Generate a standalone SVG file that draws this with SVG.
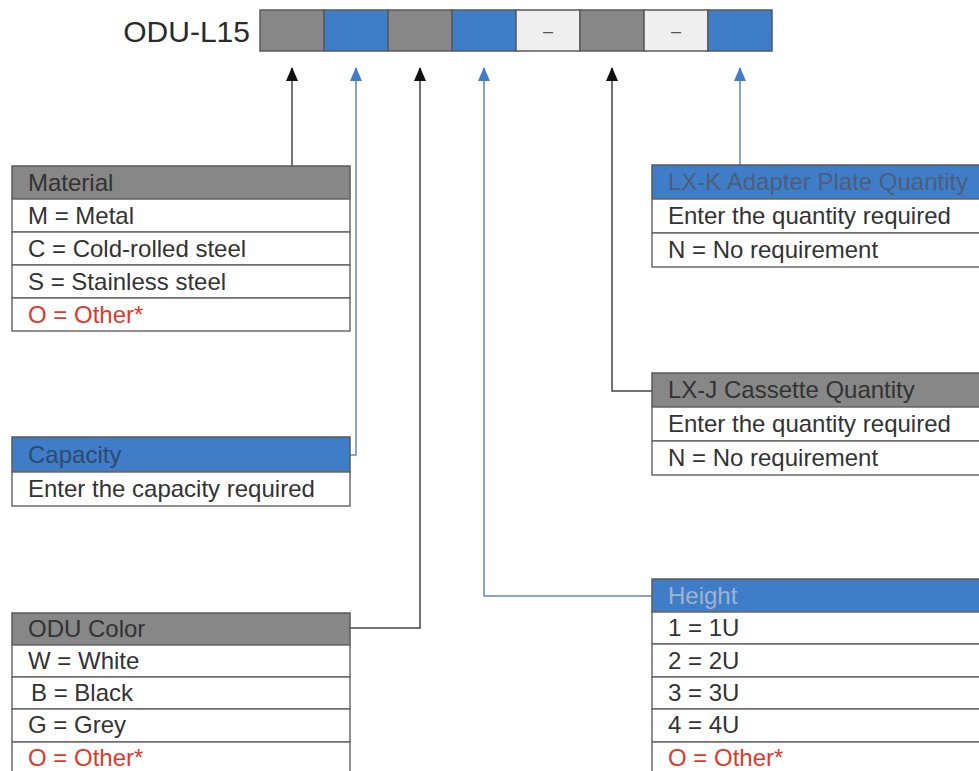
<svg xmlns="http://www.w3.org/2000/svg" width="979" height="771" viewBox="0 0 979 771">
<defs>
<marker id="ah-k" markerWidth="14" markerHeight="12" refX="13" refY="6" orient="auto" markerUnits="userSpaceOnUse" viewBox="0 0 14 12"><path d="M0,0 L14,6 L0,12 Z" fill="#111"/></marker>
<marker id="ah-b" markerWidth="14" markerHeight="12" refX="13" refY="6" orient="auto" markerUnits="userSpaceOnUse" viewBox="0 0 14 12"><path d="M0,0 L14,6 L0,12 Z" fill="#3f7dc9"/></marker>
</defs>
<style>
text{font-family:"Liberation Sans",Arial,sans-serif;font-size:24px;fill:#333}
.title{font-size:30px;fill:#2a2a2a}
.red{fill:#e0392b}
.gh{fill:#878787;stroke:#5a5a5a;stroke-width:1.5}
.bh{fill:#3f7dc9;stroke:#5a5a5a;stroke-width:1.5}
.lt{fill:#efefef;stroke:#5a5a5a;stroke-width:1.5}
.row{fill:#fff;stroke:#6a6a6a;stroke-width:1.5}
.ck{fill:none;stroke:#444;stroke-width:1.5}
.cb{fill:none;stroke:#5b87cc;stroke-width:1.5}
.dash{font-size:18px;fill:#555}
.hb1{fill:#2e4a6e}
.hb2{fill:#9fb3cf}
.hb3{fill:#4c5e7a}
</style>
<rect width="979" height="771" fill="#fff"/>
<g id="code">
<text class="title" x="250" y="42" text-anchor="end">ODU-L15</text>
<rect class="gh" x="260" y="10" width="64" height="41"/>
<rect class="bh" x="324" y="10" width="64" height="41"/>
<rect class="gh" x="388" y="10" width="64" height="41"/>
<rect class="bh" x="452" y="10" width="64" height="41"/>
<rect class="lt" x="516" y="10" width="64" height="41"/>
<rect class="gh" x="580" y="10" width="64" height="41"/>
<rect class="lt" x="644" y="10" width="64" height="41"/>
<rect class="bh" x="708" y="10" width="64" height="41"/>
<text class="dash" x="548" y="37" text-anchor="middle">–</text>
<text class="dash" x="676" y="37" text-anchor="middle">–</text>
</g>
<g id="connectors">
<path class="ck" d="M292,166 V68" marker-end="url(#ah-k)"/>
<path class="cb" d="M350,455 H356 V68" marker-end="url(#ah-b)"/>
<path class="ck" d="M350,628 H420 V68" marker-end="url(#ah-k)"/>
<path class="cb" d="M652,596 H484 V68" marker-end="url(#ah-b)"/>
<path class="ck" d="M652,391 H612 V68" marker-end="url(#ah-k)"/>
<path class="cb" d="M740,165 V68" marker-end="url(#ah-b)"/>
</g>
<g id="material">
<rect class="gh" x="12" y="166" width="338" height="33"/>
<rect class="row" x="12" y="199" width="338" height="33"/>
<rect class="row" x="12" y="232" width="338" height="33"/>
<rect class="row" x="12" y="265" width="338" height="33"/>
<rect class="row" x="12" y="298" width="338" height="33"/>
<text x="28" y="191">Material</text>
<text x="28" y="224">M = Metal</text>
<text x="28" y="257">C = Cold-rolled steel</text>
<text x="28" y="290">S = Stainless steel</text>
<text class="red" x="28" y="323">O = Other*</text>
</g>
<g id="capacity">
<rect class="bh" x="12" y="437" width="338" height="35"/>
<rect class="row" x="12" y="472" width="338" height="34"/>
<text class="hb1" x="28" y="463">Capacity</text>
<text x="28" y="497">Enter the capacity required</text>
</g>
<g id="odu-color">
<rect class="gh" x="12" y="613" width="338" height="32"/>
<rect class="row" x="12" y="645" width="338" height="32"/>
<rect class="row" x="12" y="677" width="338" height="32"/>
<rect class="row" x="12" y="709" width="338" height="33"/>
<rect class="row" x="12" y="742" width="338" height="40"/>
<text x="28" y="637">ODU Color</text>
<text x="28" y="669">W = White</text>
<text x="31" y="701">B = Black</text>
<text x="28" y="733">G = Grey</text>
<text class="red" x="28" y="766">O = Other*</text>
</g>
<g id="lx-k">
<rect class="bh" x="652" y="165" width="340" height="34"/>
<rect class="row" x="652" y="199" width="340" height="34"/>
<rect class="row" x="652" y="233" width="340" height="34"/>
<text class="hb3" x="668" y="190">LX-K Adapter Plate Quantity</text>
<text x="668" y="224">Enter the quantity required</text>
<text x="668" y="258">N = No requirement</text>
</g>
<g id="lx-j">
<rect class="gh" x="652" y="373" width="340" height="34"/>
<rect class="row" x="652" y="407" width="340" height="34"/>
<rect class="row" x="652" y="441" width="340" height="34"/>
<text x="668" y="398">LX-J Cassette Quantity</text>
<text x="668" y="432">Enter the quantity required</text>
<text x="668" y="466">N = No requirement</text>
</g>
<g id="height">
<rect class="bh" x="652" y="579" width="340" height="33"/>
<rect class="row" x="652" y="612" width="340" height="32"/>
<rect class="row" x="652" y="644" width="340" height="33"/>
<rect class="row" x="652" y="677" width="340" height="32"/>
<rect class="row" x="652" y="709" width="340" height="33"/>
<rect class="row" x="652" y="742" width="340" height="40"/>
<text class="hb2" x="668" y="604">Height</text>
<text x="668" y="636">1 = 1U</text>
<text x="668" y="669">2 = 2U</text>
<text x="668" y="701">3 = 3U</text>
<text x="668" y="733">4 = 4U</text>
<text class="red" x="668" y="766">O = Other*</text>
</g>
</svg>
